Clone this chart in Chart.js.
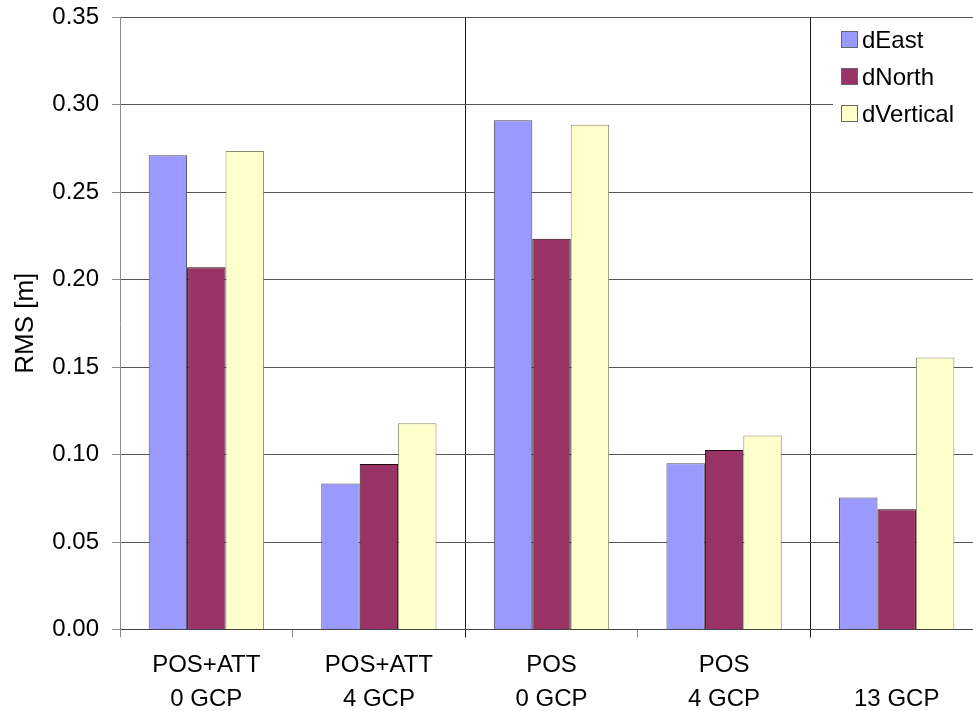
<!DOCTYPE html>
<html>
<head>
<meta charset="utf-8">
<script src="https://cdn.jsdelivr.net/npm/chart.js@4/dist/chart.umd.min.js"></script>
<style>
  html, body { margin: 0; padding: 0; background: #fff; overflow: hidden; }
  #wrap { width: 973px; height: 711px; overflow: hidden; }
  canvas { display: block; }
</style>
</head>
<body>
<div id="wrap"><canvas id="c" width="990" height="711"></canvas></div>
<script>
// RMS error per configuration, metres
const categories = [
  ['POS+ATT', '0 GCP'],
  ['POS+ATT', '4 GCP'],
  ['POS', '0 GCP'],
  ['POS', '4 GCP'],
  ['', '13 GCP']
];
const seriesNames = ['dEast', 'dNorth', 'dVertical'];
const dEast     = [0.271, 0.0835, 0.291, 0.095, 0.0755];
const dNorth    = [0.207, 0.0946, 0.2233, 0.1026, 0.0687];
const dVertical = [0.2735, 0.1178, 0.2885, 0.1108, 0.1555];
const yTicks = { min: 0, max: 0.35, step: 0.05 };

const FONT = "'Liberation Sans', Arial, sans-serif";
const fills   = ['#9999ff', '#993366', '#ffffcc'];
const borders = ['#4a4a5a', '#1a0a10', '#8a8a70'];

// Boxed legend in the top-right corner of the plot
const cornerLegend = {
  id: 'cornerLegend',
  afterDraw(chart) {
    const ctx = chart.ctx;
    ctx.save();
    ctx.fillStyle = '#ffffff';
    ctx.fillRect(833, 21, 200, 112);
    ctx.font = '24px ' + FONT;
    ctx.textBaseline = 'middle';
    ctx.textAlign = 'left';
    chart.data.datasets.forEach((ds, i) => {
      const cy = 40 + i * 37;
      ctx.fillStyle = ds.backgroundColor;
      ctx.fillRect(841.5, cy - 8.5, 16, 16);
      ctx.strokeStyle = '#666';
      ctx.lineWidth = 1;
      ctx.strokeRect(841.5, cy - 8.5, 16, 16);
      ctx.fillStyle = '#000';
      ctx.fillText(ds.label, 862, cy + 1);
    });
    ctx.restore();
  }
};

new Chart(document.getElementById('c'), {
  type: 'bar',
  data: {
    labels: categories,
    datasets: [dEast, dNorth, dVertical].map((vals, i) => ({
      label: seriesNames[i],
      data: vals,
      backgroundColor: fills[i],
      borderColor: borders[i],
      borderWidth: 1,
      categoryPercentage: 0.668,
      barPercentage: 1.0
    }))
  },
  options: {
    responsive: false,
    animation: false,
    devicePixelRatio: 1,
    layout: { padding: { top: 17, right: 7, left: 0, bottom: 0 } },
    plugins: {
      legend: { display: false },
      tooltip: { enabled: false }
    },
    scales: {
      x: {
        afterFit(s) { s.height = 81.5; },
        grid: {
          offset: true,
          drawOnChartArea: true,
          tickLength: 8,
          lineWidth: 1,
          color: c => (c.index === 2 || c.index === 4) ? '#1a1a1a' : 'rgba(0,0,0,0)',
          tickColor: c => (c.index === 2 || c.index === 4) ? '#1a1a1a' : '#8c8c8c'
        },
        border: { display: true, color: '#444', width: 1 },
        ticks: {
          color: '#000',
          font: { family: FONT, size: 24, lineHeight: 1.4 },
          padding: 11,
          maxRotation: 0,
          autoSkip: false
        }
      },
      y: {
        min: yTicks.min,
        max: yTicks.max,
        afterFit(s) { s.width = 120; s.paddingTop = 0; s.paddingBottom = 0; },
        grid: {
          color: '#555',
          lineWidth: 1,
          tickLength: 8,
          tickColor: '#8c8c8c'
        },
        border: { display: true, color: '#8c8c8c', width: 1 },
        ticks: {
          stepSize: yTicks.step,
          color: '#000',
          font: { family: FONT, size: 24 },
          padding: 13,
          callback: v => v.toFixed(2)
        },
        title: {
          display: true,
          text: 'RMS [m]',
          color: '#000',
          font: { family: FONT, size: 26 },
          padding: { top: 10, bottom: 0 }
        }
      }
    }
  },
  plugins: [cornerLegend]
});
</script>
</body>
</html>
